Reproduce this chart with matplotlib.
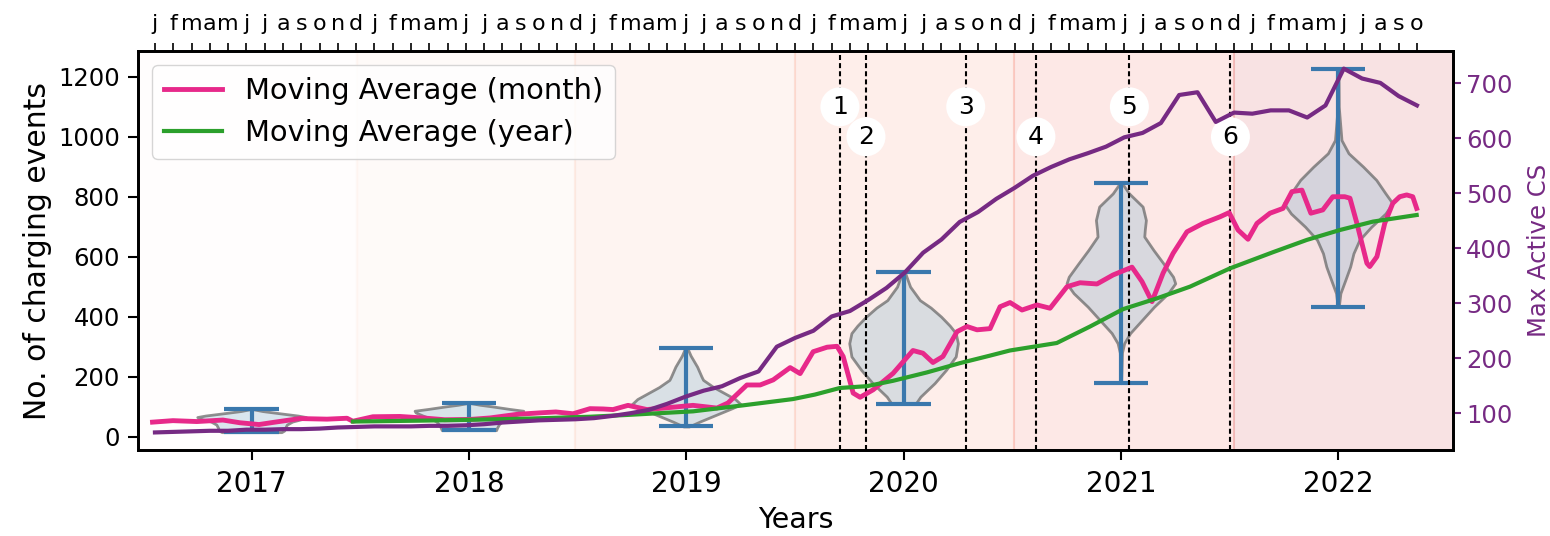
import numpy as np
import matplotlib
matplotlib.use("Agg")
import matplotlib.pyplot as plt

# daily moving average of charging events (decimal year, events)
month_ma_t = [2016.544, 2016.638, 2016.748, 2016.868, 2016.946, 2017.034, 2017.098, 2017.222,
              2017.347, 2017.439, 2017.466, 2017.558, 2017.682, 2017.788, 2017.889, 2018.005,
              2018.097, 2018.221, 2018.327, 2018.400, 2018.479, 2018.557, 2018.617, 2018.663,
              2018.732, 2018.819, 2018.911, 2019.031, 2019.141, 2019.192, 2019.215, 2019.279,
              2019.340, 2019.400, 2019.478, 2019.524, 2019.584, 2019.648, 2019.694, 2019.722,
              2019.768, 2019.800, 2019.860, 2019.952, 2020.043, 2020.089, 2020.135, 2020.181,
              2020.246, 2020.292, 2020.338, 2020.398, 2020.444, 2020.490, 2020.545, 2020.614,
              2020.674, 2020.752, 2020.812, 2020.890, 2020.964, 2021.051, 2021.097, 2021.143,
              2021.194, 2021.240, 2021.304, 2021.378, 2021.456, 2021.498, 2021.539, 2021.585,
              2021.626, 2021.686, 2021.746, 2021.787, 2021.833, 2021.874, 2021.929, 2021.975,
              2022.030, 2022.054, 2022.086, 2022.132, 2022.145, 2022.178, 2022.214, 2022.251,
              2022.283, 2022.315, 2022.343, 2022.361]
month_ma_v = [48, 53, 50, 55, 46, 40, 47, 60,
              58, 61, 51, 66, 67, 62, 56, 57,
              62, 74, 79, 82, 76, 93, 92, 90,
              104, 90, 96, 104, 95, 112, 128, 172,
              172, 189, 230, 210, 283, 298, 301, 267,
              145, 131, 156, 211, 287, 278, 247, 267,
              350, 367, 356, 360, 433, 447, 422, 439,
              428, 500, 513, 509, 539, 565, 517, 450,
              545, 611, 683, 711, 733, 747, 689, 658,
              711, 745, 761, 817, 822, 745, 756, 800,
              800, 795, 711, 578, 567, 600, 711, 778,
              800, 806, 800, 761]

year_ma_t = [2017.466, 2017.775, 2018.019, 2018.281, 2018.557, 2018.727, 2019.031, 2019.261,
             2019.491, 2019.592, 2019.707, 2019.831, 2019.952, 2020.108, 2020.260, 2020.398,
             2020.489, 2020.705, 2020.858, 2021.010, 2021.166, 2021.318, 2021.502, 2021.700,
             2021.856, 2022.008, 2022.160, 2022.361]
year_ma_v = [50, 53, 56, 60, 66, 72, 84, 104,
             125, 140, 162, 168, 186, 214, 245, 270,
             287, 312, 367, 425, 461, 500, 561, 615,
             656, 689, 717, 739]

# monthly maximum of active charging stations
max_active_cs = [65, 66, 67, 68, 68, 70, 70, 71, 71, 72,
                 74, 75, 76, 76, 76, 77, 77, 78, 80, 83,
                 85, 87, 88, 89, 91, 95, 100, 106, 117, 130,
                 141, 149, 164, 176, 221, 237, 250, 276, 286, 306,
                 328, 356, 392, 416, 448, 466, 490, 510, 532, 548,
                 562, 573, 585, 602, 610, 628, 679, 684, 630, 647,
                 645, 651, 651, 638, 660, 727, 709, 701, 677, 660]
month_letters = ["j", "f", "m", "a", "m", "j", "j", "a", "s", "o", "n", "d"]

# yearly distribution of daily events: value grid and relative density
violin_years = [2017, 2018, 2019, 2020, 2021, 2022]
violin_coords = [
    [14.6, 20, 30, 40, 50, 58, 65, 70, 78, 85, 91.5],
    [21.3, 30, 40, 50, 60, 70, 80, 86, 92, 100, 106, 111.6],
    [33.5, 50, 65, 80, 95, 108, 125, 145, 165, 189, 200, 233, 270, 295],
    [109, 133, 178, 222, 267, 311, 345, 370, 400, 430, 455, 500, 550],
    [178, 280, 311, 345, 389, 433, 478, 511, 533, 578, 622, 667, 690, 722, 767, 811, 845],
    [433, 478, 522, 567, 611, 656, 700, 744, 778, 811, 856, 900, 945, 989, 1055, 1100, 1226],
]
violin_density = [
    [0.55, 0.6, 0.62, 0.65, 0.75, 0.92, 1.0, 0.85, 0.5, 0.2, 0.02],
    [0.5, 0.52, 0.55, 0.6, 0.7, 0.85, 0.98, 1.0, 0.75, 0.45, 0.2, 0.03],
    [0.05, 0.25, 0.45, 0.65, 0.85, 1.0, 0.9, 0.7, 0.5, 0.31, 0.28, 0.2, 0.08, 0.02],
    [0.22, 0.31, 0.57, 0.78, 0.96, 1.0, 0.96, 0.85, 0.69, 0.5, 0.3, 0.12, 0.02],
    [0.005, 0.02, 0.06, 0.17, 0.39, 0.61, 0.87, 1.0, 0.96, 0.78, 0.6, 0.43, 0.44, 0.46, 0.4, 0.15, 0.02],
    [0.01, 0.04, 0.13, 0.22, 0.28, 0.39, 0.61, 0.87, 1.0, 0.87, 0.7, 0.46, 0.19, 0.06, 0.03, 0.01, 0.005],
]

# period boundaries and events
period_edges = [2016.0, 2017.485, 2018.488, 2019.5, 2020.51, 2021.52, 2023.0]
event_years = [2019.707, 2019.827, 2020.286, 2020.609, 2021.039, 2021.504]
event_labels = ["1", "2", "3", "4", "5", "6"]
event_levels = [1100, 1000, 1100, 1000, 1100, 1000]

PINK = "#e7298a"
GREEN = "#2ca02c"
PURPLE = "#762a83"
VBLUE = "#3a78ad"

fig = plt.figure(figsize=(15.5, 5.36), dpi=100)
ax = fig.add_axes([0.0890, 0.1604, 0.8484, 0.7444])

cmap = plt.cm.Reds
shades = np.linspace(0.0, 0.75, len(period_edges) - 1)
for i in range(len(period_edges) - 1):
    ax.axvspan(period_edges[i], period_edges[i + 1], color=cmap(shades[i]), alpha=0.12, lw=1.5, zorder=0)

stats = []
for c, d in zip(violin_coords, violin_density):
    stats.append(dict(coords=np.array(c, float), vals=np.array(d, float),
                      mean=np.nan, median=np.nan, min=c[0], max=c[-1]))
parts = ax.violin(stats, positions=violin_years, widths=0.5, showextrema=True)
for body in parts["bodies"]:
    body.set_alpha(None)
    body.set_facecolor((0.52, 0.70, 0.80, 0.3))
    body.set_edgecolor((0.42, 0.42, 0.42, 0.75))
    body.set_linewidth(2)
for key in ("cmaxes", "cmins", "cbars"):
    parts[key].set_color(VBLUE)
    parts[key].set_linewidth(3)

ax.plot(month_ma_t, month_ma_v, color=PINK, lw=3.5, label="Moving Average (month)", zorder=4)
ax.plot(year_ma_t, year_ma_v, color=GREEN, lw=3, label="Moving Average (year)", zorder=4)

for x, lab, lvl in zip(event_years, event_labels, event_levels):
    ax.axvline(x, color="black", ls=(0, (2.4, 1.5)), lw=1.5, zorder=3)
    ax.text(x, lvl, lab, ha="center", va="center", fontsize=18, zorder=6,
            bbox=dict(boxstyle="circle,pad=0.3", fc="white", ec="none"))

ax.set_xlim(2016.477, 2022.528)
ax.set_ylim(-45, 1286)
ax.set_xticks(violin_years)
ax.set_xticklabels([str(y) for y in violin_years])
ax.tick_params(axis="x", labelsize=20, length=7.2, width=1.5, pad=7)
ax.tick_params(axis="y", labelsize=17.5, length=7, width=1.5, pad=6)
ax.set_xlabel("Years", fontsize=20.5, labelpad=6)
ax.set_ylabel("No. of charging events", fontsize=21.5)
ax.legend(loc="upper left", fontsize=20.8)

# right axis: max active charging stations, monthly points on the top axis
ax_r = ax.twinx()
ax_top = ax_r.twiny()
months = np.arange(len(max_active_cs))
ax_top.plot(months, max_active_cs, color=PURPLE, lw=3, zorder=5)
ax_top.set_xlim(-0.93, 70.97)
ax_top.set_xticks(months)
ax_top.set_xticklabels([month_letters[m % 12] for m in months])
ax_top.tick_params(axis="x", labelsize=16, length=6, width=1.2, pad=6)

ax_r.set_ylim(33, 759)
ax_r.set_yticks([100, 200, 300, 400, 500, 600, 700])
ax_r.tick_params(axis="y", labelsize=17.5, length=6, width=1.5, colors=PURPLE)
ax_r.set_ylabel("Max Active CS", fontsize=17.5, color=PURPLE, labelpad=10)

for a in (ax, ax_r, ax_top):
    for s in a.spines.values():
        s.set_linewidth(1.8)

fig.savefig("out.png", dpi=100)
